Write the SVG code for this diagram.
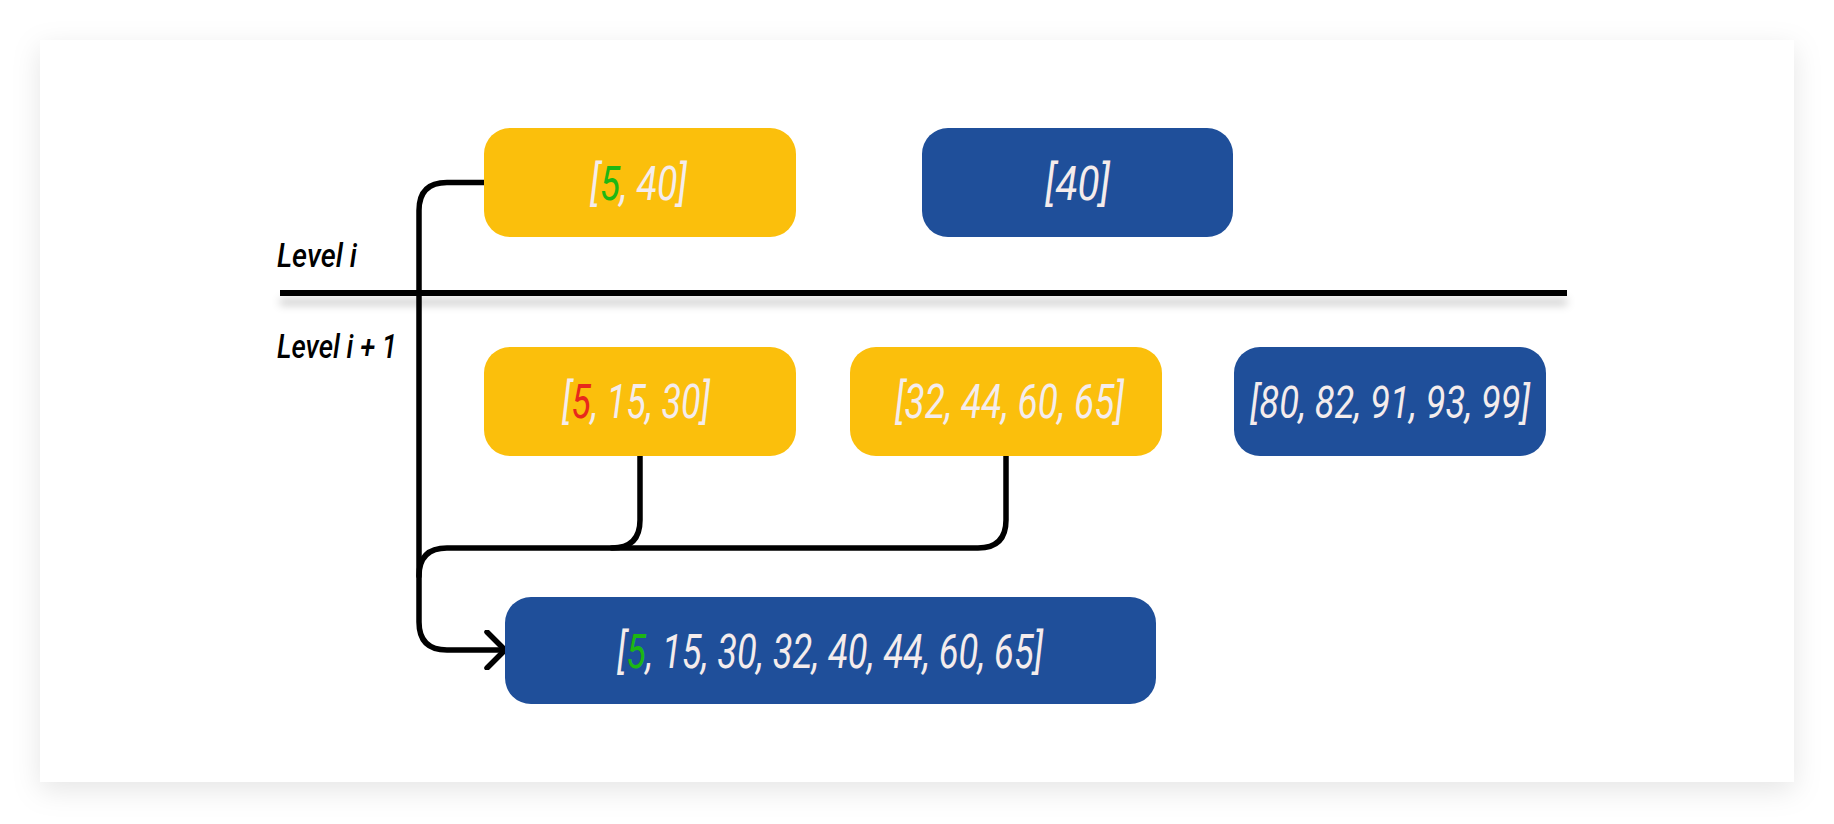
<svg xmlns="http://www.w3.org/2000/svg" width="1834" height="824" viewBox="0 0 1834 824">
<defs>
<filter id="cardShadow" x="-10%" y="-10%" width="120%" height="125%">
<feDropShadow dx="0" dy="8" stdDeviation="14" flood-color="#000" flood-opacity="0.10"/>
</filter>
<filter id="lineShadow" filterUnits="userSpaceOnUse" x="250" y="270" width="1350" height="60">
<feDropShadow dx="0" dy="9" stdDeviation="4" flood-color="#000" flood-opacity="0.22"/>
</filter>
<marker id="arrow" viewBox="0 0 24 40" refX="21" refY="20" markerWidth="24" markerHeight="40" markerUnits="userSpaceOnUse" orient="auto">
<path d="M3,2 L21,20 L3,38" fill="none" stroke="#000" stroke-width="5.5" stroke-linecap="round" stroke-linejoin="round"/>
</marker>
<style>
.yel{fill:#FBBF0C}
.blu{fill:#1F4F9A}
.t{font-family:Roboto,"Liberation Sans",sans-serif;font-style:italic;font-size:48px;fill:#F4ECEC}
.lvl{font-family:Roboto,"Liberation Sans",sans-serif;font-style:italic;font-weight:500;font-size:33px;fill:#000}
.g{fill:#1DB713}
.r{fill:#E8281C}
.c{fill:none;stroke:#000;stroke-width:5.5;stroke-linecap:round;stroke-linejoin:round}
</style>
</defs>
<rect width="1834" height="824" fill="#ffffff"/>
<rect x="40" y="40" width="1754" height="742" fill="#ffffff" filter="url(#cardShadow)"/>
<g id="divider">
<rect x="280" y="290" width="1287" height="6" fill="#000" filter="url(#lineShadow)"/>
</g>
<g id="label-level-i"><text class="lvl" x="277" y="267" textLength="80" lengthAdjust="spacingAndGlyphs">Level i</text></g>
<g id="label-level-i1"><text class="lvl" x="277" y="358" textLength="120" lengthAdjust="spacingAndGlyphs">Level i + 1</text></g>
<g id="connectors">
<path class="c" d="M484,182.5 H447 Q419,182.5 419,210.5 V622 Q419,650 447,650 H505" marker-end="url(#arrow)"/>
<path class="c" d="M640,456 V520 Q640,548 612,548 H447 Q419,548 419,576"/>
<path class="c" d="M1006,456 V520 Q1006,548 978,548 H612"/>
</g>
<g id="node-5-40">
<rect class="yel" x="484" y="128" width="312" height="109" rx="26"/>
<text class="t" x="590" y="200" textLength="97" lengthAdjust="spacingAndGlyphs">[<tspan class="g">5</tspan>, 40]</text>
</g>
<g id="node-40">
<rect class="blu" x="922" y="128" width="311" height="109" rx="26"/>
<text class="t" x="1045" y="200" textLength="65" lengthAdjust="spacingAndGlyphs">[40]</text>
</g>
<g id="node-5-15-30">
<rect class="yel" x="484" y="347" width="312" height="109" rx="26"/>
<text class="t" x="562" y="418" textLength="148" lengthAdjust="spacingAndGlyphs">[<tspan class="r">5</tspan>, 15, 30]</text>
</g>
<g id="node-32-65">
<rect class="yel" x="850" y="347" width="312" height="109" rx="26"/>
<text class="t" x="895" y="418" textLength="229" lengthAdjust="spacingAndGlyphs">[32, 44, 60, 65]</text>
</g>
<g id="node-80-99">
<rect class="blu" x="1234" y="347" width="312" height="109" rx="26"/>
<text class="t" x="1250" y="418" textLength="280" lengthAdjust="spacingAndGlyphs" style="font-size:45px">[80, 82, 91, 93, 99]</text>
</g>
<g id="node-merged">
<rect class="blu" x="505" y="597" width="651" height="107" rx="26"/>
<text class="t" x="617" y="668" textLength="426" lengthAdjust="spacingAndGlyphs">[<tspan class="g">5</tspan>, 15, 30, 32, 40, 44, 60, 65]</text>
</g>
</svg>
